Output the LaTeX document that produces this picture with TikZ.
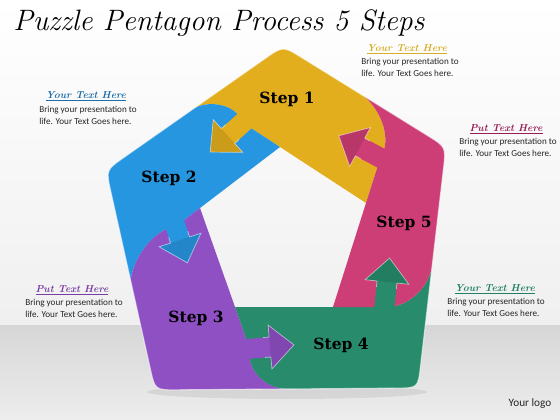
\documentclass[tikz,border=0pt]{standalone}
\usepackage{fontspec}
\newfontfamily\bodyfont{Carlito}
\newfontfamily\stepfont{DejaVu Serif}
\usetikzlibrary{calc}

\definecolor{stepyellow}{RGB}{226,174,30}
\definecolor{stepblue}{RGB}{38,150,224}
\definecolor{steppurple}{RGB}{143,80,196}
\definecolor{stepgreen}{RGB}{40,140,108}
\definecolor{steppink}{RGB}{206,62,118}
\definecolor{headyellow}{RGB}{214,174,40}
\definecolor{headblue}{RGB}{30,110,170}
\definecolor{headpink}{RGB}{150,30,85}
\definecolor{headpurple}{RGB}{120,62,165}
\definecolor{headgreen}{RGB}{32,128,100}

\tikzset{
  steplabel/.style={font=\stepfont\bfseries\fontsize{11}{13}\selectfont, text=black},
  headtext/.style={font=\bfseries\itshape\fontsize{7.2}{9}\selectfont, inner sep=0pt},
  bodytext/.style={font=\bodyfont\fontsize{6.5}{8.15}\selectfont, align=left,
    anchor=north west, inner sep=0pt, text=black!85},
  rim/.style={draw=white, line width=0.8pt, opacity=0.6},
  pics/puzzlearrow/.style={code={
    \path[pic actions] (-34,-10) -- (0,-10) -- (0,-22) -- (24,0) -- (0,22) -- (0,10) -- (-34,10) -- cycle;
    % darker head with a light edge
    \fill[black, opacity=0.1] (0,-22) -- (24,0) -- (0,22) -- cycle;
    \draw[white, opacity=0.55, line width=0.5pt] (-6,-10) -- (0,-10) -- (0,-22) -- (24,0) -- (0,22) -- (0,10) -- (-6,10);
  }}
}

\begin{document}
\begin{tikzpicture}[x=0.025cm,y=-0.025cm]
  \useasboundingbox (0,0) rectangle (560,420);
  % backdrop
  \fill[top color=white, bottom color=black!6] (0,0) rectangle (560,325);
  \fill[top color=black!16, bottom color=black!7] (0,325) rectangle (560,420);
  \fill[black, opacity=0.07] (287,392) ellipse (140 and 7);

  % pentagon corners, outer and inner
  \coordinate (o1) at (283,46);
  \coordinate (o2) at (446,147);
  \coordinate (o3) at (418,388);
  \coordinate (o4) at (155,390);
  \coordinate (o5) at (106,170);
  \coordinate (i1) at (280,147);
  \coordinate (i2) at (366,203);
  \coordinate (i3) at (333,307);
  \coordinate (i4) at (235,307);
  \coordinate (i5) at (200,208);
  % cuts on the outer rim
  \coordinate (ca) at ($(o5)!.5!(o1)$);
  \coordinate (cb) at ($(o5)!.5!(o4)$);
  \coordinate (cc) at ($(o4)!.5!(o3)$);
  \coordinate (cd) at ($(o3)!.5!(o2)$);
  \coordinate (ce) at ($(o2)!.5!(o1)$);
  % inner ends of the cuts, hidden by the arrows
  \coordinate (ka) at (242.8,122.8);
  \coordinate (kb) at (176.2,226.2);
  \coordinate (kc) at (249.8,348.8);
  \coordinate (kd) at (384.4,307);
  \coordinate (ke) at (380.4,157.8);
  % round caps
  \coordinate (a1) at (236,104); \coordinate (a2) at (210,100);
  \coordinate (b1) at (158,228); \coordinate (b2) at (135,252);
  \coordinate (c1) at (246,366); \coordinate (c2) at (262,388);
  \coordinate (d1) at (404,308); \coordinate (d2) at (426,293);
  \coordinate (e1) at (392,140); \coordinate (e2) at (382,112);

  % the five pieces
  \fill[stepyellow] (ca) -- ($(o1)!0.55cm!(ca)$) .. controls (o1) .. ($(o1)!0.55cm!(ce)$) -- (ce)
    .. controls (e2) and (e1) .. (ke) -- (i2) -- (i1) -- (ka) .. controls (a1) and (a2) .. (ca) -- cycle;
  \fill[stepblue] (cb) -- ($(o5)!0.55cm!(cb)$) .. controls (o5) .. ($(o5)!0.55cm!(ca)$) -- (ca)
    .. controls (a2) and (a1) .. (ka) -- (i1) -- (i5) -- (kb) .. controls (b1) and (b2) .. (cb) -- cycle;
  \fill[steppurple] (cc) -- ($(o4)!0.55cm!(cc)$) .. controls (o4) .. ($(o4)!0.55cm!(cb)$) -- (cb)
    .. controls (b2) and (b1) .. (kb) -- (i5) -- (i4) -- (kc) .. controls (c1) and (c2) .. (cc) -- cycle;
  \fill[stepgreen] (cd) -- ($(o3)!0.55cm!(cd)$) .. controls (o3) .. ($(o3)!0.55cm!(cc)$) -- (cc)
    .. controls (c2) and (c1) .. (kc) -- (i4) -- (i3) -- (kd) .. controls (d1) and (d2) .. (cd) -- cycle;
  \fill[steppink] (ce) -- ($(o2)!0.55cm!(ce)$) .. controls (o2) .. ($(o2)!0.55cm!(cd)$) -- (cd)
    .. controls (d2) and (d1) .. (kd) -- (i3) -- (i2) -- (ke) .. controls (e1) and (e2) .. (ce) -- cycle;

  % light rim
  \draw[rim] ($(o1)!0.55cm!(o5)$) .. controls (o1) .. ($(o1)!0.55cm!(o2)$)
    -- ($(o2)!0.55cm!(o1)$) .. controls (o2) .. ($(o2)!0.55cm!(o3)$)
    -- ($(o3)!0.55cm!(o2)$) .. controls (o3) .. ($(o3)!0.55cm!(o4)$)
    -- ($(o4)!0.55cm!(o3)$) .. controls (o4) .. ($(o4)!0.55cm!(o5)$)
    -- ($(o5)!0.55cm!(o4)$) .. controls (o5) .. ($(o5)!0.55cm!(o1)$) -- cycle;

  % arrows from one step into the next
  \pic (arra) [fill=stepyellow, rotate=222] at (228,136) {puzzlearrow};
  \pic (arrb) [fill=stepblue, rotate=-72] at (180,240) {puzzlearrow};
  \pic (arrc) [fill=steppurple, rotate=5] at (270,347) {puzzlearrow};
  \pic (arrd) [fill=stepgreen, rotate=84] at (387,282) {puzzlearrow};
  \pic (arre) [fill=steppink, rotate=152] at (360,147) {puzzlearrow};

  \node[steplabel] (s1) at (287,99) {Step 1};
  \node[steplabel] (s2) at (169,178) {Step 2};
  \node[steplabel] (s3) at (196,318) {Step 3};
  \node[steplabel] (s4) at (341,345) {Step 4};
  \node[steplabel] (s5) at (404,223) {Step 5};

  % title and side texts
  \node[anchor=base west, inner sep=0pt, font=\itshape\fontsize{21}{25}\selectfont] (title) at (13,31)
    {Puzzle Pentagon Process 5 Steps};

  \node[headtext, text=headyellow] (h1) at (407,49) {\underline{Your Text Here}};
  \node[bodytext] (t1) at (361,58) {Bring your presentation to\\life. Your Text Goes here.};
  \node[headtext, text=headblue] (h2) at (86,96) {\underline{Your Text Here}};
  \node[bodytext] (t2) at (39,106) {Bring your presentation to\\life. Your Text Goes here.};
  \node[headtext, text=headpink] (h3) at (506,129) {\underline{Put Text Here}};
  \node[bodytext] (t3) at (459,138) {Bring your presentation to\\life. Your Text Goes here.};
  \node[headtext, text=headpurple] (h4) at (72,290) {\underline{Put Text Here}};
  \node[bodytext] (t4) at (25,299) {Bring your presentation to\\life. Your Text Goes here.};
  \node[headtext, text=headgreen] (h5) at (495,289) {\underline{Your Text Here}};
  \node[bodytext] (t5) at (447,298) {Bring your presentation to\\life. Your Text Goes here.};

  \node[font=\bodyfont\fontsize{8}{9}\selectfont, text=black!85] (logo) at (530,404) {Your logo};
\end{tikzpicture}
\end{document}
